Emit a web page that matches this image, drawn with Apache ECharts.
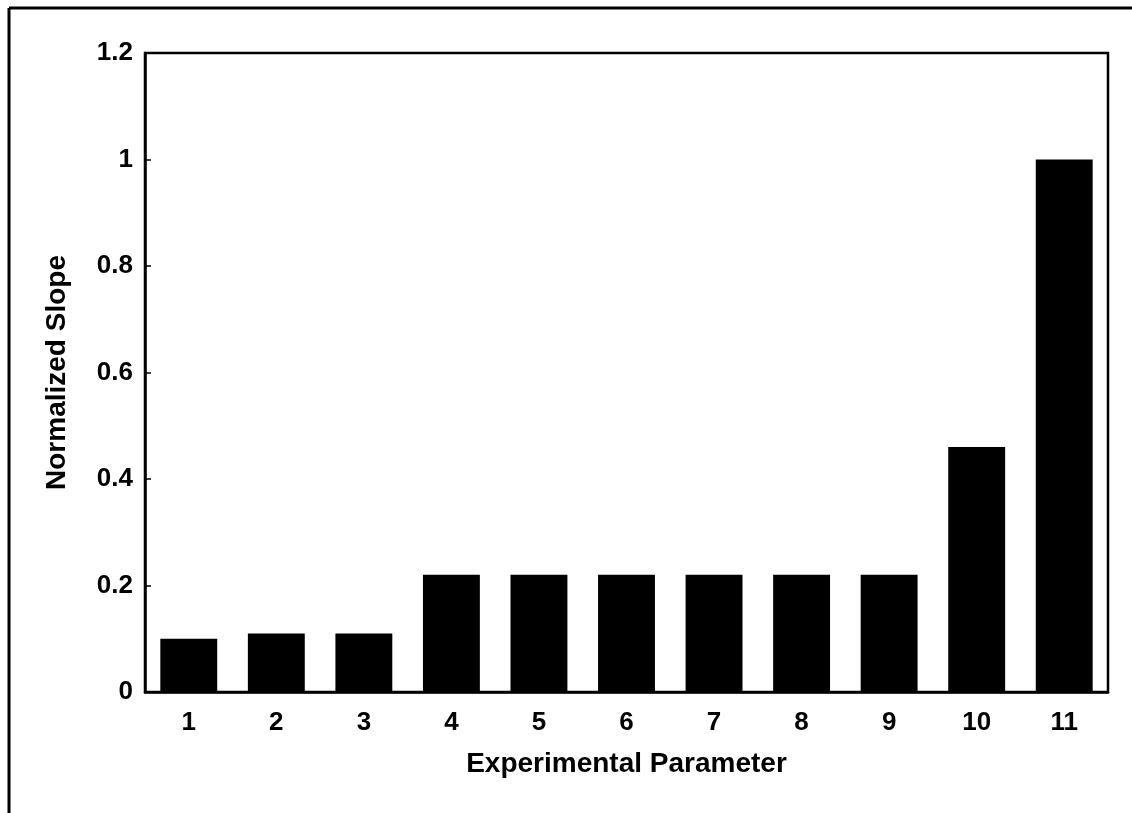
<!DOCTYPE html>
<html>
<head>
<meta charset="utf-8">
<script src="https://cdn.jsdelivr.net/npm/echarts@6/dist/echarts.min.js"></script>
<style>
html,body{margin:0;padding:0;background:#fff;}
#chart{width:1132px;height:813px;}
</style>
</head>
<body>
<div id="chart"></div>
<script>
const categories = ['1','2','3','4','5','6','7','8','9','10','11'];
const slopeValues = [0.10, 0.11, 0.11, 0.22, 0.22, 0.22, 0.22, 0.22, 0.22, 0.46, 1.00];
const xAxisTitle = 'Experimental Parameter';
const yAxisTitle = 'Normalized Slope';

const font = 'Liberation Sans, Arial, Helvetica, sans-serif';
const chart = echarts.init(document.getElementById('chart'));
chart.setOption({
  backgroundColor: '#fff',
  animation: false,
  graphic: [
    { type: 'line', shape: { x1: 9, y1: 8, x2: 1132, y2: 8 }, style: { stroke: '#000', lineWidth: 3 } },
    { type: 'line', shape: { x1: 9, y1: 8, x2: 9, y2: 813 }, style: { stroke: '#000', lineWidth: 3 } }
  ],
  grid: { left: 145, right: 24, top: 53, bottom: 121, show: true, borderColor: '#000', borderWidth: 2.5, containLabel: false },
  xAxis: {
    type: 'category',
    data: categories,
    name: xAxisTitle,
    nameLocation: 'middle',
    nameGap: 58,
    nameTextStyle: { fontFamily: font, fontWeight: 'bold', fontSize: 28, color: '#000' },
    axisLine: { lineStyle: { color: '#000', width: 2.5 } },
    axisTick: { show: false },
    axisLabel: { fontFamily: font, fontWeight: 'bold', fontSize: 26, color: '#000', margin: 18 },
    splitLine: { show: false }
  },
  yAxis: {
    type: 'value',
    min: 0, max: 1.2, interval: 0.2,
    name: yAxisTitle,
    nameLocation: 'middle',
    nameGap: 74,
    nameTextStyle: { fontFamily: font, fontWeight: 'bold', fontSize: 28, color: '#000' },
    axisLine: { show: true, lineStyle: { color: '#000', width: 2.5 } },
    axisTick: { show: true, inside: true, length: 6, lineStyle: { color: '#000', width: 1.5 } },
    axisLabel: { fontFamily: font, fontWeight: 'bold', fontSize: 26, color: '#000', margin: 12 },
    splitLine: { show: false }
  },
  series: [{
    type: 'bar',
    data: slopeValues,
    barCategoryGap: '35%',
    itemStyle: { color: '#000' }
  }]
});
</script>
</body>
</html>
